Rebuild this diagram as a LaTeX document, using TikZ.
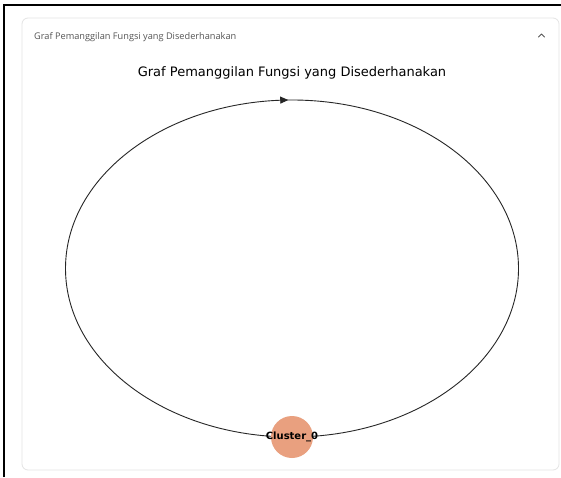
\documentclass[tikz,border=0pt]{standalone}
\usepackage{fontspec}
\setmainfont{DejaVu Sans}
\newfontfamily\uifont{Open Sans}
\usetikzlibrary{arrows.meta,decorations.markings}
\definecolor{salmonnode}{HTML}{E9A07F}
\definecolor{cardline}{HTML}{E4E4E4}
\definecolor{uigray}{HTML}{555555}
\tikzset{
  card/.style={draw=cardline, line width=0.8pt, rounded corners=6pt, fill=white},
  frameline/.style={draw=black, line width=1.6pt},
  headtext/.style={font=\uifont\fontsize{9.2}{10}\selectfont, text=uigray, anchor=west, inner sep=0pt},
  titletext/.style={font=\fontsize{13}{15}\selectfont, text=black, inner sep=0pt},
  clusternode/.style={circle, fill=salmonnode, minimum size=42pt, inner sep=0pt, font=\bfseries\fontsize{10}{11}\selectfont},
  loopedge/.style={draw=black!85, line width=0.9pt,
    postaction={decorate, decoration={markings, mark=at position 0.497 with {\arrow{Triangle[length=8pt,width=7pt]}}}}},
}
\begin{document}
\begin{tikzpicture}[x=1pt,y=1pt]
\useasboundingbox (0,0) rectangle (561,477);
\fill[white] (0,0) rectangle (561,477);
% outer frame (top and left)
\draw[frameline] (4,0) -- (4,472) -- (561,472);
% card
\draw[card] (22,7) rectangle (559,459);
% header
\node[headtext] (head) at (34,440) {Graf Pemanggilan Fungsi yang Disederhanakan};
\draw[uigray, line width=0.9pt, line cap=round, line join=round] (538.5,440) -- (541.5,443) -- (544.5,440);
% title
\node[titletext] (title) at (292,404) {Graf Pemanggilan Fungsi yang Disederhanakan};
% node
\coordinate (c) at (292,40);
\draw[loopedge] (c) arc[start angle=270, end angle=-90, x radius=226.5, y radius=168.5];
\node[clusternode] (cl) at (c) {\makebox[0pt][c]{Cluster\_0}};
\end{tikzpicture}
\end{document}
